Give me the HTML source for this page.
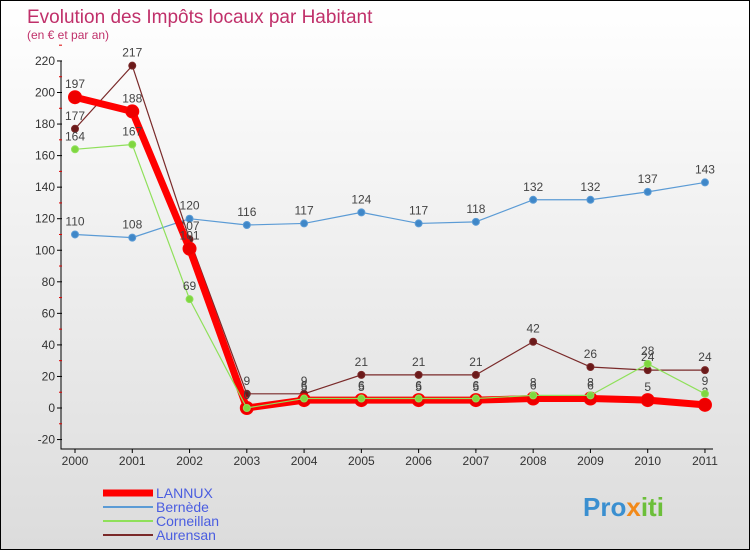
<!DOCTYPE html>
<html><head><meta charset="utf-8"><style>
body{margin:0;}
#c{width:748px;height:548px;border:1px solid #000;background:linear-gradient(#fff,#dcdcdc);position:relative;font-family:"Liberation Sans",sans-serif;overflow:hidden}
</style></head><body>
<div id="c">
<svg id="s" width="748" height="548">
<text x="26" y="22" font-size="19" fill="#c0306a">Evolution des Impôts locaux par Habitant</text>
<text x="26" y="38" font-size="12" fill="#c0306a">(en € et par an)</text>
<g id="axes"></g><g id="series"></g><g id="legend"></g>
<text x="582" y="515" font-size="26" font-weight="bold" fill="#3a8fd0">Pro<tspan fill="#f28a1a">x</tspan><tspan fill="#6cbf3a">iti</tspan></text>
</svg></div>
<script>
const years=[2000,2001,2002,2003,2004,2005,2006,2007,2008,2009,2010,2011];
const yTicks=[-20,0,20,40,60,80,100,120,140,160,180,200,220];
const lannux=[197,188,101,0,5,5,5,5,6,6,5,2];
const bernede=[110,108,120,116,117,124,117,118,132,132,137,143];
const corneillan=[164,167,69,0,6,6,6,6,8,8,28,9];
const aurensan=[177,217,107,9,9,21,21,21,42,26,24,24];
const NS="http://www.w3.org/2000/svg";
const X=i=>74+i*57.27, Y=v=>407-v*1.5775;
function mk(t,a,p){const e=document.createElementNS(NS,t);for(const k in a)e.setAttribute(k,a[k]);p.appendChild(e);return e;}
const ax=document.getElementById('axes');
const yl=mk('line',{x1:60,y1:Y(220),x2:60,y2:Y(-20)+10,stroke:'#000'},ax);


yTicks.forEach(v=>{mk('line',{x1:56,x2:61,y1:Y(v),y2:Y(v),stroke:'#000'},ax);
mk('line',{x1:58,x2:61,y1:Y(v+10),y2:Y(v+10),stroke:'#d00'},ax);
const t=mk('text',{x:54,y:Y(v)+4,'font-size':12,'text-anchor':'end',fill:'#333'},ax);t.textContent=v;

});
const xl=mk('line',{x1:60,x2:712,y1:448,y2:448,stroke:'#000'},ax);


years.forEach((y,i)=>{mk('line',{x1:X(i),x2:X(i),y1:448,y2:452,stroke:'#000'},ax);
const t=mk('text',{x:X(i),y:464,'font-size':12,'text-anchor':'middle',fill:'#333'},ax);t.textContent=y;

});
const sg=document.getElementById('series');
function series(d,col,dot,w,r,name){
const g=mk('g',{},sg);


mk('polyline',{points:d.map((v,i)=>X(i)+','+Y(v)).join(' '),fill:'none',stroke:col,'stroke-width':w,'stroke-linejoin':'round'},g);
d.forEach((v,i)=>{const c=mk('circle',{cx:X(i),cy:Y(v),r:r,fill:dot,stroke:col,'stroke-width':1},g);


const t=mk('text',{x:X(i),y:Y(v)-9,'font-size':12,'text-anchor':'middle',fill:'#444'},g);t.textContent=v;

});}
series(bernede,'#5b9bd5','#3f87c8',1.2,3.5,'bernede');
series(aurensan,'#7a2a2a','#6b1a1a',1.2,3.5,'aurensan');
series(lannux,'#f00','#e00',7,6.5,'lannux');
series(corneillan,'#8fe05a','#7fd63f',1.2,3.5,'corneillan');
const lg=document.getElementById('legend');
[['LANNUX','#f00',7],['Bernède','#5b9bd5',2],['Corneillan','#8fe05a',2],['Aurensan','#7a2a2a',2]].forEach((e,i)=>{
const y=492+i*14;
const l=mk('line',{x1:102,x2:152,y1:y,y2:y,stroke:e[1],'stroke-width':e[2]},lg);


const t=mk('text',{x:155,y:y+5,'font-size':14,fill:'#4a5de0'},lg);t.textContent=e[0];

});
</script>
</body></html>
